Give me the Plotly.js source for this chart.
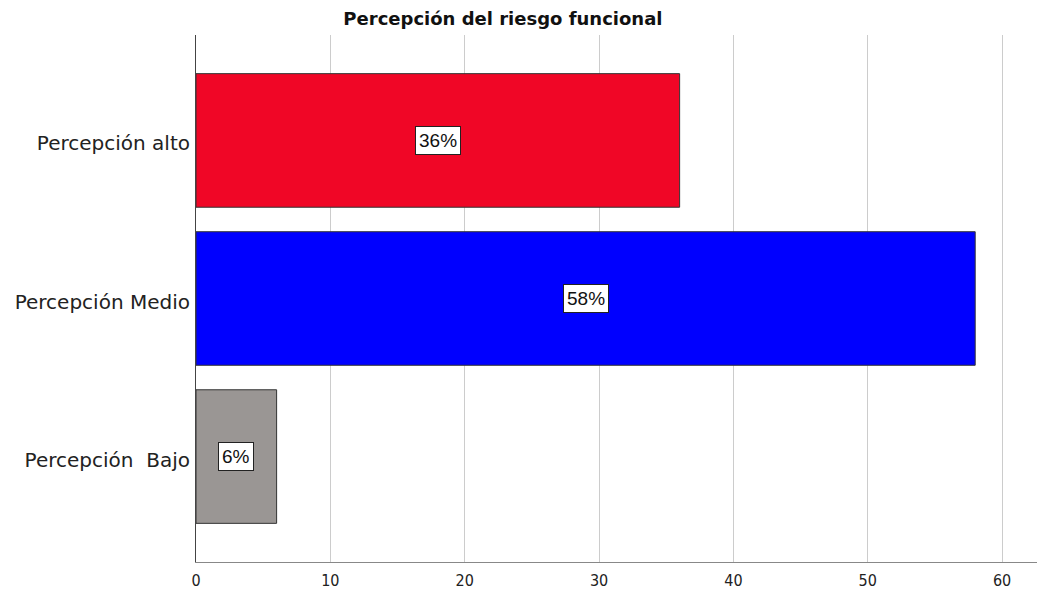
<!DOCTYPE html>
<html>
<head>
<meta charset="utf-8">
<script src="https://cdn.plot.ly/plotly-3.0.1.min.js"></script>
<style>html,body{margin:0;padding:0;background:#fff;}#chart{width:1037px;height:594px;}</style>
</head>
<body>
<div id="chart"></div>
<script>
const categories = ["Percepción\u00a0 Bajo", "Percepción Medio", "Percepción alto"];
const values = [6, 58, 36];
const labels = ["6%", "58%", "36%"];
const barColors = ["#9a9694", "#0000ff", "#f00626"];

const trace = {
  type: "bar",
  orientation: "h",
  y: categories,
  x: values,
  width: 0.845,
  marker: { color: barColors, line: { color: "#333333", width: 1 } },
  hoverinfo: "skip"
};

const annotations = categories.map((c, i) => ({
  x: values[i] / 2,
  y: c,
  xref: "x",
  yref: "y",
  text: labels[i],
  showarrow: false,
  font: { family: "Liberation Sans, Arial, sans-serif", size: 19, color: "#111" },
  bgcolor: "#ffffff",
  bordercolor: "#222222",
  borderwidth: 1,
  borderpad: 3
}));

const layout = {
  width: 1037,
  height: 594,
  margin: { l: 196, r: 0, t: 35, b: 32, pad: 0 },
  paper_bgcolor: "#ffffff",
  plot_bgcolor: "#ffffff",
  showlegend: false,
  title: {
    text: "<b>Percepción del riesgo funcional</b>",
    font: { family: "DejaVu Sans, sans-serif", size: 18, color: "#111" },
    x: 0.485, xanchor: "center", xref: "container",
    y: 0.968, yanchor: "middle", yref: "container"
  },
  xaxis: {
    range: [0, 62.6],
    tickvals: [0, 10, 20, 30, 40, 50, 60],
    showgrid: true,
    gridcolor: "#cccccc",
    gridwidth: 1,
    zeroline: false,
    showline: true,
    linecolor: "#888888",
    linewidth: 1,
    ticks: "",
    ticklabelstandoff: 4,
    tickfont: { family: "DejaVu Sans Condensed, DejaVu Sans, sans-serif", size: 16, color: "#222" },
    fixedrange: true
  },
  yaxis: {
    range: [-0.667, 2.667],
    showgrid: false,
    zeroline: false,
    showline: true,
    linecolor: "#444444",
    linewidth: 1,
    ticks: "",
    ticklabelstandoff: 1,
    ticklabelshift: 3,
    tickfont: { family: "DejaVu Sans, sans-serif", size: 20, color: "#222" },
    fixedrange: true
  },
  annotations: annotations
};

Plotly.newPlot("chart", [trace], layout, { displayModeBar: false, staticPlot: true });
</script>
</body>
</html>
